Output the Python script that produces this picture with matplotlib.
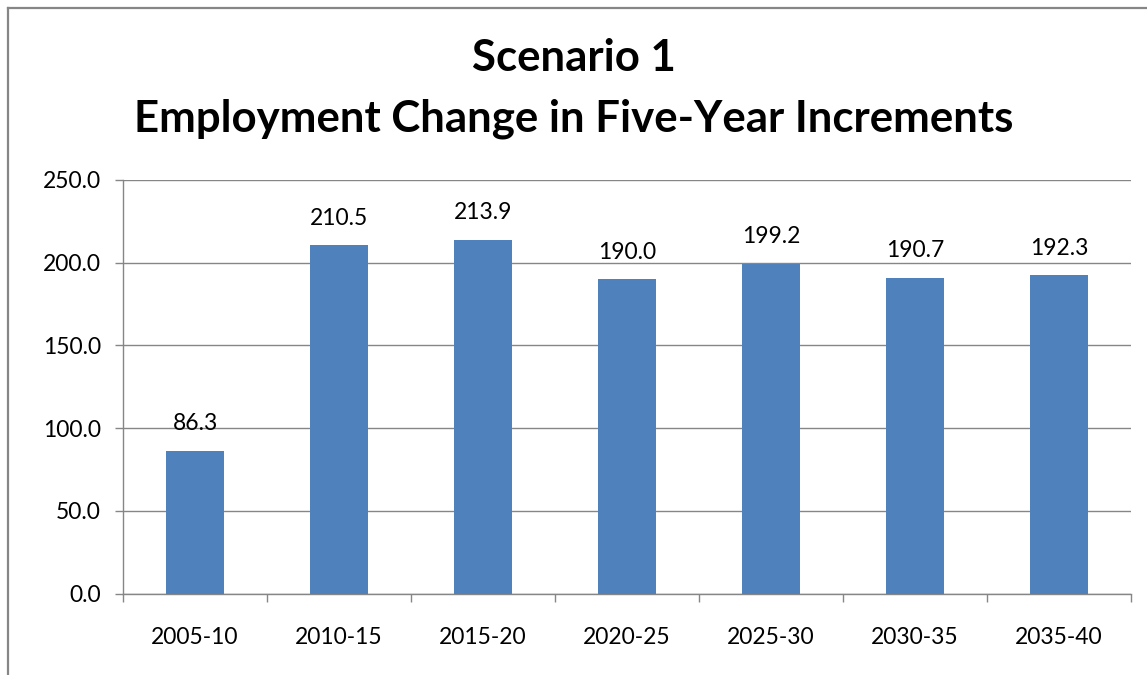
import matplotlib
matplotlib.use("Agg")
import matplotlib.pyplot as plt
from matplotlib.lines import Line2D
import numpy as np

plt.rcParams['font.family'] = ['Lato', 'DejaVu Sans']

categories = ["2005-10", "2010-15", "2015-20", "2020-25", "2025-30", "2030-35", "2035-40"]
values = [86.3, 210.5, 213.9, 190.0, 199.2, 190.7, 192.3]
yticks = [0, 50, 100, 150, 200, 250]
title_lines = ["Scenario 1", "Employment Change in Five-Year Increments"]

W, H = 1147, 675
DPI = 100
fig = plt.figure(figsize=(W / DPI, H / DPI), dpi=DPI)
fig.patch.set_facecolor("white")

grid_c = "#868686"
bar_c = "#4F81BD"

# outer chart border (only left and top visible)
fig.add_artist(Line2D([8 / W, 8 / W], [0, 1 - 8 / H], transform=fig.transFigure,
                      color=grid_c, lw=1.6))
fig.add_artist(Line2D([8 / W, 1], [1 - 8 / H, 1 - 8 / H], transform=fig.transFigure,
                      color=grid_c, lw=1.6))

left, right = 123 / W, 1131 / W
bottom, top = 1 - 593.5 / H, 1 - 180 / H
ax = fig.add_axes([left, bottom, right - left, top - bottom])

x = np.arange(len(categories))
ax.bar(x, values, width=0.4, color=bar_c, zorder=3)

ax.set_xlim(-0.5, len(categories) - 0.5)
ax.set_ylim(0, 250)
ax.set_yticks(yticks)
ax.set_yticklabels([f"{v:.1f}" for v in yticks])
ax.yaxis.grid(True, color=grid_c, lw=1.0, zorder=0)
ax.set_axisbelow(True)

ax.set_xticks(x)
ax.set_xticklabels(categories)
ax.set_xticks(np.arange(-0.5, len(categories), 1.0), minor=True)
ax.tick_params(axis='x', which='major', length=0, pad=24, labelsize=16.5)
ax.tick_params(axis='x', which='minor', length=6, width=1.0, color=grid_c, direction='out')
ax.tick_params(axis='y', length=6, width=1.0, color=grid_c, pad=10, labelsize=16.5)

for s in ['top', 'right']:
    ax.spines[s].set_visible(False)
for s in ['left', 'bottom']:
    ax.spines[s].set_color(grid_c)
    ax.spines[s].set_linewidth(1.0)

for xi, v in zip(x, values):
    ax.annotate(f"{v:.1f}", (xi, v), xytext=(0, 12), textcoords='offset points',
                ha='center', va='bottom', fontsize=16.5)

fig.text(0.5, 1 - 58 / H, title_lines[0], ha='center', va='center',
         fontsize=31.5, fontweight='bold')
fig.text(0.5, 1 - 119 / H, title_lines[1], ha='center', va='center',
         fontsize=31.5, fontweight='bold')

fig.savefig("out.png", dpi=DPI)
